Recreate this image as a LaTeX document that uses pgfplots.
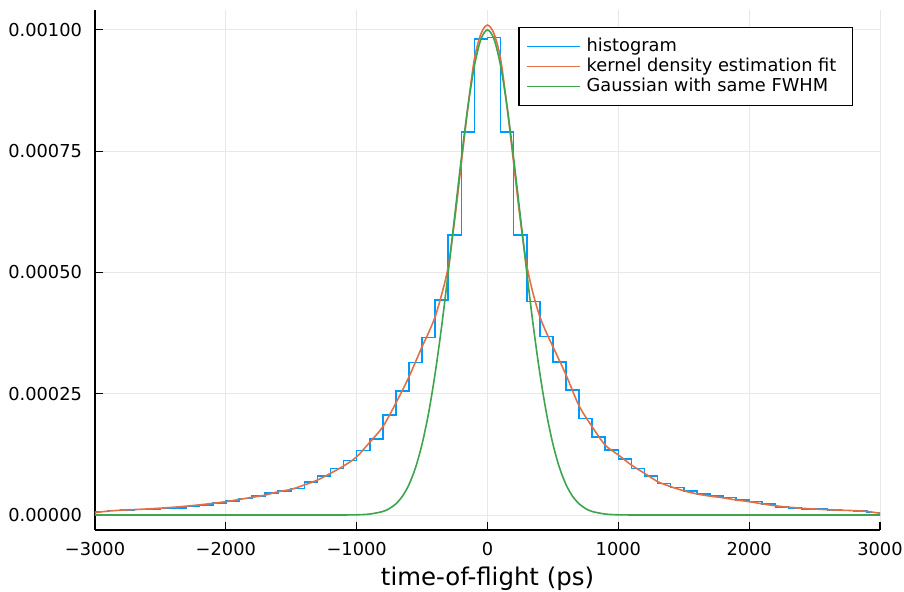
\documentclass[border=0pt]{standalone}
\usepackage{fontspec}
\setmainfont{DejaVu Sans}
\usepackage{pgfplots}
\pgfplotsset{compat=1.18}
\definecolor{c1}{HTML}{009AFA}
\definecolor{c2}{HTML}{E36F47}
\definecolor{c3}{HTML}{3EA44E}
\begin{document}
\begin{tikzpicture}
\useasboundingbox (-47.5pt,-30.5pt) rectangle (404.5pt,265pt);
\begin{axis}[
  at={(0,0)}, anchor=south west,
  scale only axis, width=392.5pt, height=260pt,
  xmin=-3000, xmax=3000, ymin=-0.0000309, ymax=0.001041,
  axis x line=bottom, axis y line=left,
  axis line style={-, line width=0.6pt, black},
  tick align=inside, major tick length=4pt,
  tick style={line width=0.6pt, black},
  xtick={-3000,-2000,-1000,0,1000,2000,3000},
  xticklabels={−3000,−2000,−1000,0,1000,2000,3000},
  ytick={0,0.00025,0.0005,0.00075,0.001},
  yticklabels={0.00000,0.00025,0.00050,0.00075,0.00100},
  tick label style={font=\fontsize{8.9}{10}\selectfont},
  xticklabel style={anchor=base, yshift=-12.5pt},
  yticklabel style={anchor=east, xshift=-3pt},
  grid=major, major grid style={color=black!9, line width=0.5pt},
  xlabel={time-of-flight (ps)},
  xlabel style={font=\fontsize{12.2}{14}\selectfont, at={(axis description cs:0.5,0)}, anchor=base, yshift=-27.5pt},
  legend style={at={(1,1)}, anchor=north east, xshift=-13.5pt, yshift=-8.5pt,
    draw=black, line width=0.6pt, inner xsep=3.5pt, inner ysep=4.5pt,
    font=\fontsize{8.9}{10}\selectfont,
    nodes={inner sep=0pt, text height=7.3pt, text depth=2.7pt},
    /tikz/every odd column/.style={column sep=3pt}},
  legend cell align=left,
  legend image code/.code={\draw[#1,line width=0.8pt] (0pt,0pt) -- (26.5pt,0pt);},
]
\addplot[draw=c1, line width=0.8pt, const plot] coordinates {
(-3000,0) (-3000,0.7e-5) (-2900,0.9e-5) (-2800,1.0e-5) (-2700,1.1e-5) (-2600,1.2e-5)
(-2500,1.35e-5) (-2400,1.5e-5) (-2300,1.75e-5) (-2200,2.1e-5) (-2100,2.5e-5)
(-2000,2.95e-5) (-1900,3.4e-5) (-1800,3.9e-5) (-1700,4.5e-5) (-1600,5.0e-5)
(-1500,5.5e-5) (-1400,6.8e-5) (-1300,8.0e-5) (-1200,9.6e-5) (-1100,11.2e-5)
(-1000,13.3e-5) (-900,15.7e-5) (-800,20.6e-5) (-700,25.6e-5) (-600,31.4e-5)
(-500,36.6e-5) (-400,44.3e-5) (-300,57.7e-5) (-200,79.0e-5) (-100,98.1e-5)
(0,98.4e-5) (100,79.0e-5) (200,57.7e-5) (300,44.0e-5) (400,36.8e-5)
(500,31.6e-5) (600,25.8e-5) (700,19.9e-5) (800,16.1e-5) (900,13.4e-5)
(1000,11.5e-5) (1100,9.6e-5) (1200,8.0e-5) (1300,6.5e-5) (1400,5.7e-5)
(1500,5.0e-5) (1600,4.3e-5) (1700,3.9e-5) (1800,3.6e-5) (1900,3.1e-5)
(2000,2.75e-5) (2100,2.3e-5) (2200,1.7e-5) (2300,1.45e-5) (2400,1.3e-5)
(2500,1.2e-5) (2600,1.0e-5) (2700,0.9e-5) (2800,0.8e-5) (2900,0.55e-5) (3000,0)
};
\addlegendentry{histogram}
\addplot[draw=c2, line width=0.8pt, smooth, tension=0.5] coordinates {
(-3000,0.5e-5) (-2900,0.8e-5) (-2800,1.0e-5) (-2600,1.25e-5) (-2400,1.6e-5)
(-2200,2.1e-5) (-2000,2.75e-5) (-1900,3.2e-5) (-1800,3.65e-5) (-1700,4.1e-5)
(-1600,4.8e-5) (-1500,5.3e-5) (-1400,6.2e-5) (-1300,7.2e-5) (-1200,8.6e-5)
(-1100,10.1e-5) (-1000,12.0e-5) (-900,15.0e-5) (-800,18.2e-5) (-700,23.1e-5)
(-600,28.5e-5) (-500,34.7e-5) (-450,37.6e-5) (-400,40.9e-5) (-350,45.5e-5)
(-300,51.2e-5) (-250,61e-5) (-200,72.5e-5) (-150,84e-5) (-100,94e-5)
(-50,99.2e-5) (0,101e-5) (50,99.2e-5) (100,94e-5) (150,84e-5) (200,72.5e-5)
(250,61e-5) (300,51.5e-5) (350,45.5e-5) (400,40.9e-5) (450,37.6e-5)
(500,34.7e-5) (600,28.9e-5) (700,22.5e-5) (800,18.2e-5) (900,14.4e-5)
(1000,12.4e-5) (1100,10.3e-5) (1200,8.6e-5) (1300,6.9e-5) (1400,5.85e-5)
(1500,5.0e-5) (1600,4.35e-5) (1700,3.9e-5) (1800,3.55e-5) (1900,3.1e-5)
(2000,2.75e-5) (2200,1.9e-5) (2400,1.4e-5) (2600,1.1e-5) (2800,0.9e-5)
(2900,0.75e-5) (3000,0.35e-5)
};
\addlegendentry{kernel density estimation fit\rule{4.5pt}{0pt}}
\addplot[draw=c3, line width=0.8pt, smooth, tension=0.5] coordinates {
(-3000,0) (-1400,0) (-1200,1.6e-8) (-1100,9.1e-8) (-1000,4.58e-7) (-900,1.973e-6)
(-800,7.29e-6) (-750,1.323e-5) (-700,2.31e-5) (-650,3.882e-5) (-600,6.277e-5)
(-550,9.768e-5) (-500,1.463e-4) (-450,2.107e-4) (-400,2.922e-4) (-350,3.899e-4)
(-300,5.005e-4) (-250,6.184e-4) (-200,7.352e-4) (-150,8.411e-4) (-100,9.26e-4)
(-50,9.81e-4) (0,1.0e-3) (50,9.81e-4) (100,9.26e-4) (150,8.411e-4) (200,7.352e-4)
(250,6.184e-4) (300,5.005e-4) (350,3.899e-4) (400,2.922e-4) (450,2.107e-4)
(500,1.463e-4) (550,9.768e-5) (600,6.277e-5) (650,3.882e-5) (700,2.31e-5)
(750,1.323e-5) (800,7.29e-6) (900,1.973e-6) (1000,4.58e-7) (1100,9.1e-8)
(1200,1.6e-8) (1400,0) (3000,0)
};
\addlegendentry{Gaussian with same FWHM}
\end{axis}
\end{tikzpicture}
\end{document}
